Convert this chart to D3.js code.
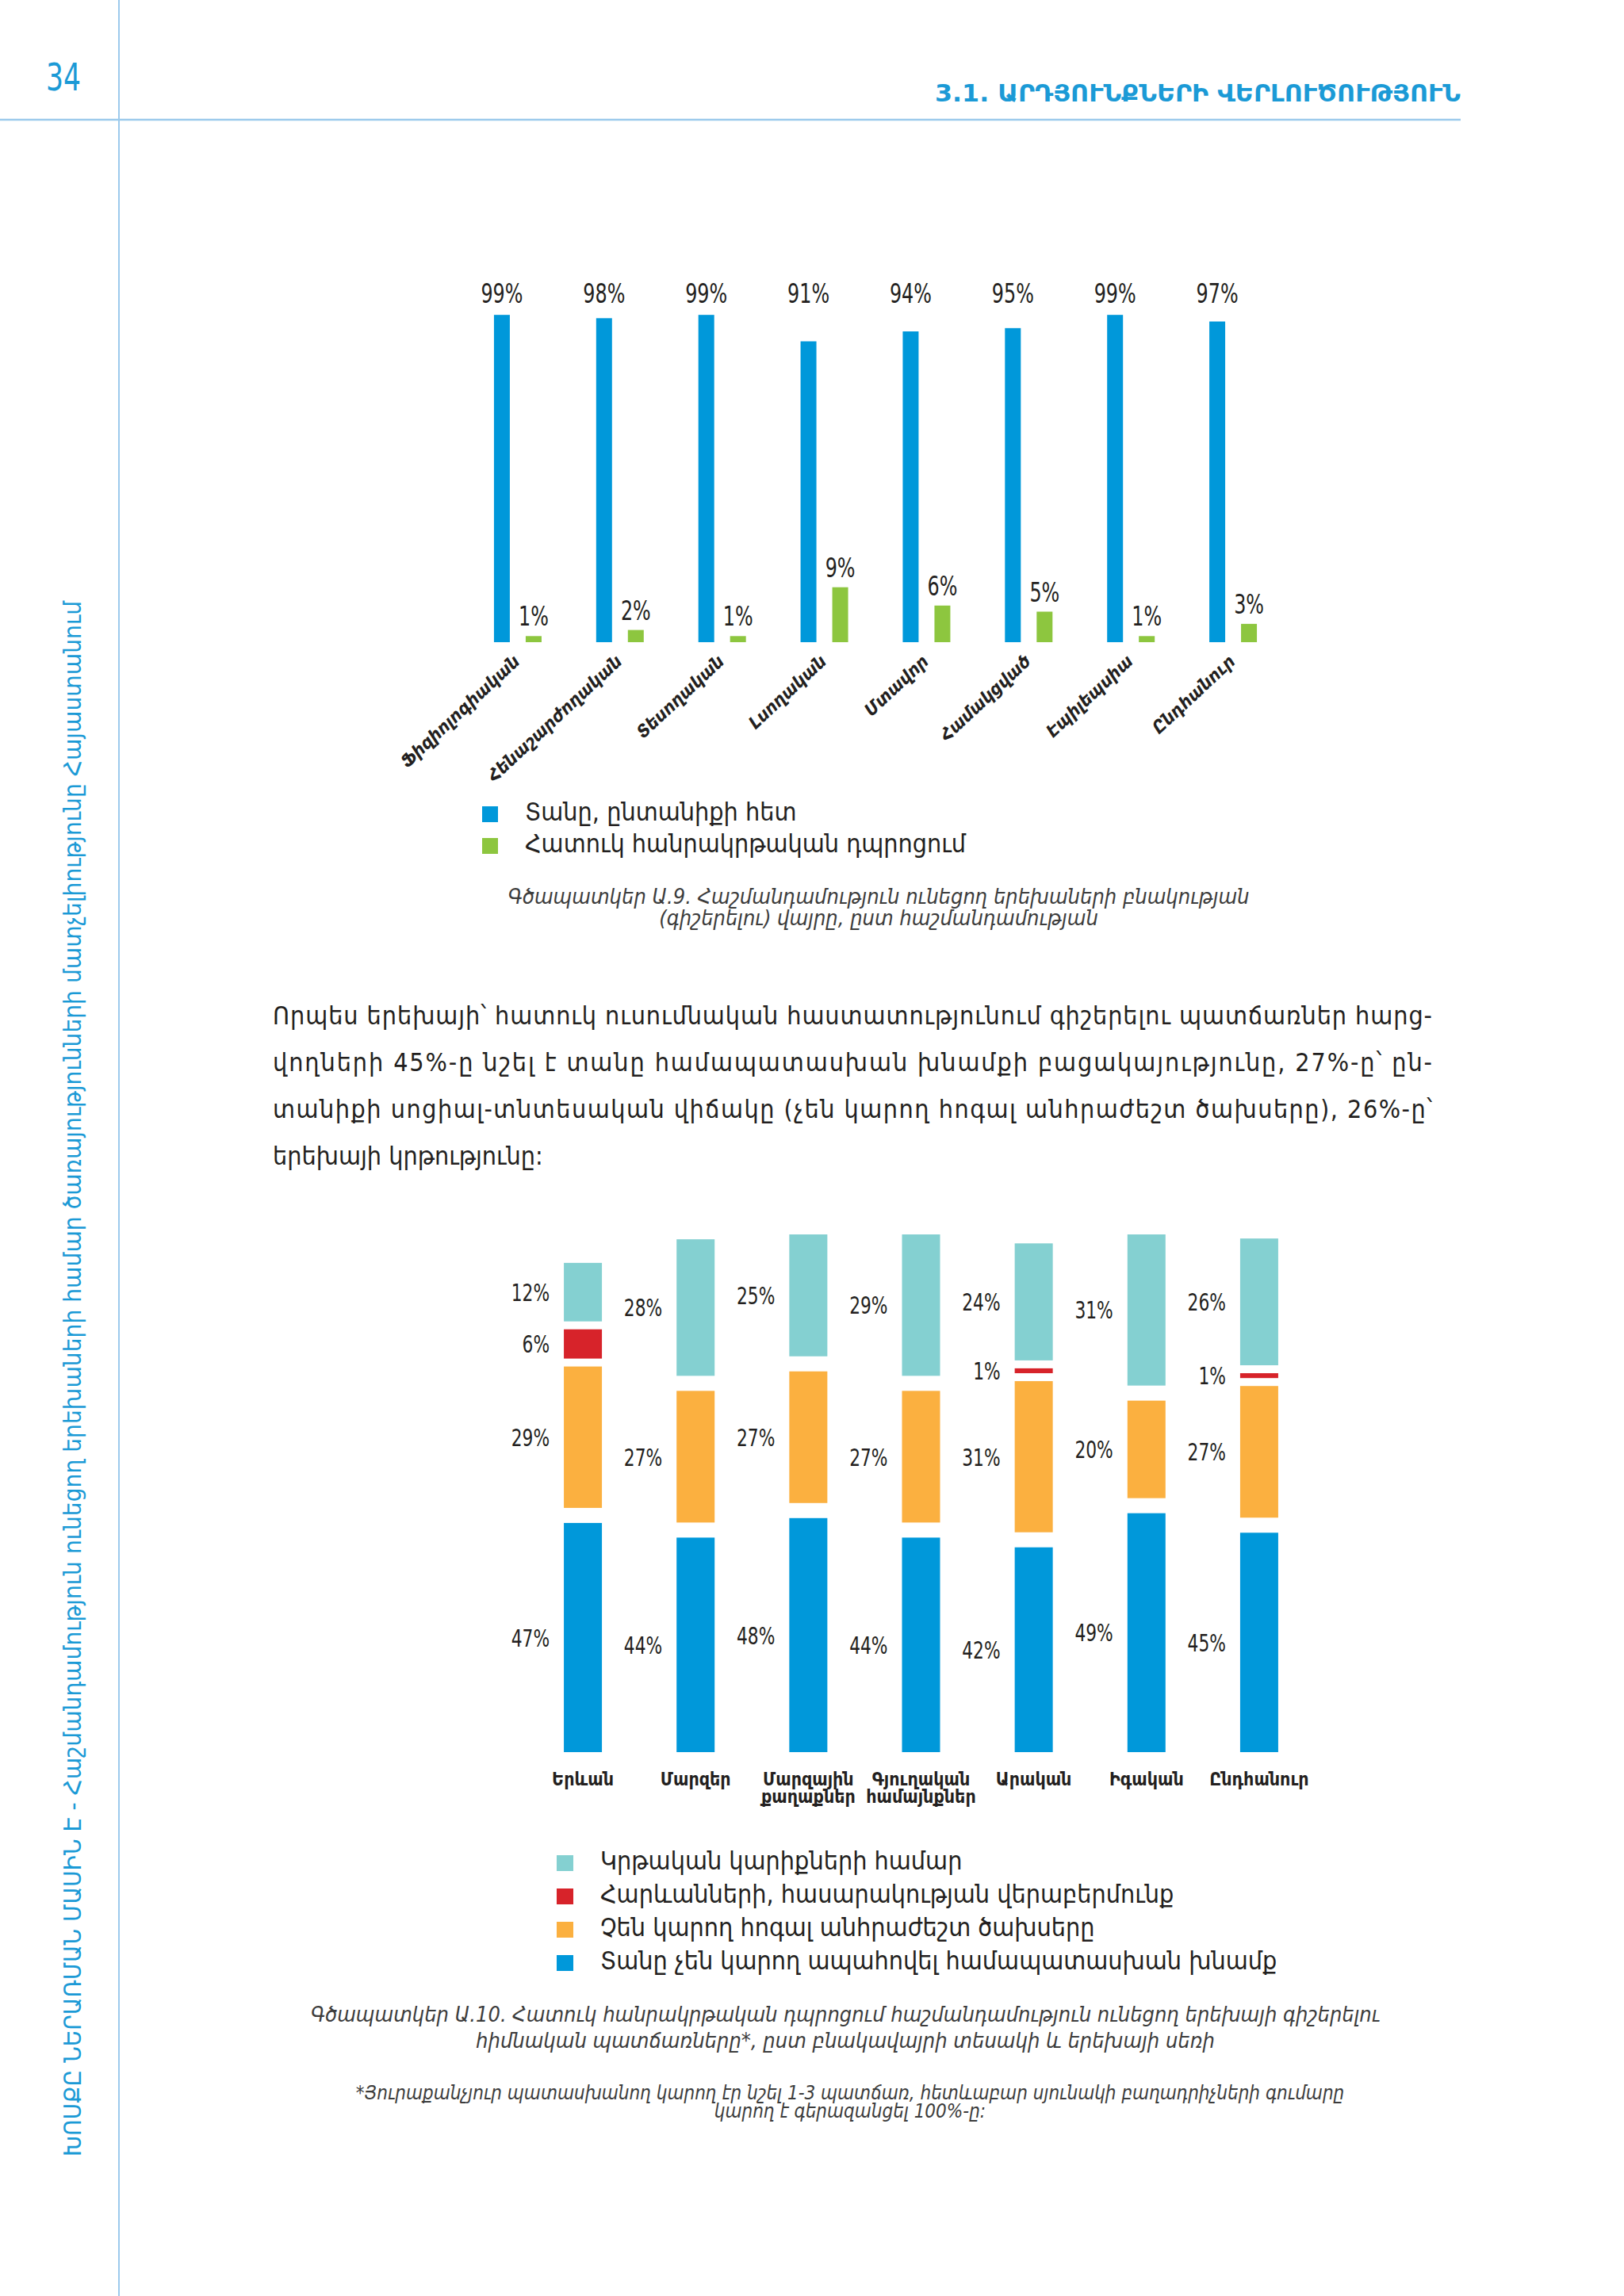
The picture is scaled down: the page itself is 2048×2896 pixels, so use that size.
<!DOCTYPE html>
<html>
<head>
<meta charset="utf-8">
<script src="https://cdn.jsdelivr.net/npm/d3@7"></script>
<style>
  html, body { margin: 0; padding: 0; background: #fff; }
  svg { display: block; }
</style>
</head>
<body>
<div id="page"></div>
<script>
var width = 2048,
  height = 2896;

var blue = "#0098da", green = "#8dc63f", teal = "#84d0d1", red = "#d7232a", orange = "#fbb040";
var pageBlue = "#1b9ad6", ruleBlue = "#9ccaec", ink = "#231f20", captionInk = "#3c3c3c";
var armFont = "'DejaVu Sans Condensed', 'DejaVu Sans', sans-serif";
var numFont = "'Liberation Sans Narrow', 'DejaVu Sans Condensed', sans-serif";

// figure A.9 - where children live, by disability
var disabilities = ["Ֆիզիոլոգիական", "Հենաշարժողական", "Տեսողական", "Լսողական", "Մտավոր", "Համակցված", "Էպիլեպսիա", "Ընդհանուր"];
var atHome = [99, 98, 99, 91, 94, 95, 99, 97];
var specialSchool = [1, 2, 1, 9, 6, 5, 1, 3];
var legend9 = ["Տանը, ընտանիքի հետ", "Հատուկ հանրակրթական դպրոցում"];
var caption9 = ["Գծապատկեր Ա.9. Հաշմանդամություն ունեցող երեխաների բնակության", "(գիշերելու) վայրը, ըստ հաշմանդամության"];

// figure A.10 - reasons, by settlement type and sex
var groups = ["Երևան", "Մարզեր", "Մարզային քաղաքներ", "Գյուղական համայնքներ", "Արական", "Իգական", "Ընդհանուր"];
var noCare = [47, 44, 48, 44, 42, 49, 45];
var noCosts = [29, 27, 27, 27, 31, 20, 27];
var attitude = [6, 0, 0, 0, 1, 0, 1];
var education = [12, 28, 25, 29, 24, 31, 26];
var legend10 = ["Կրթական կարիքների համար", "Հարևանների, հասարակության վերաբերմունք", "Չեն կարող հոգալ անհրաժեշտ ծախսերը", "Տանը չեն կարող ապահովել համապատասխան խնամք"];
var caption10 = ["Գծապատկեր Ա.10. Հատուկ հանրակրթական դպրոցում հաշմանդամություն ունեցող երեխայի գիշերելու", "հիմնական պատճառները*, ըստ բնակավայրի տեսակի և երեխայի սեռի"];
var footnote10 = ["*Յուրաքանչյուր պատասխանող կարող էր նշել 1-3 պատճառ, հետևաբար սյունակի բաղադրիչների գումարը", "կարող է գերազանցել 100%-ը:"];

var paragraph = [
  "Որպես երեխայի՝ հատուկ ուսումնական հաստատությունում գիշերելու պատճառներ հարց-",
  "վողների 45%-ը նշել է տանը համապատասխան խնամքի բացակայությունը, 27%-ը՝ ըն-",
  "տանիքի սոցիալ-տնտեսական վիճակը (չեն կարող հոգալ անհրաժեշտ ծախսերը), 26%-ը՝",
  "երեխայի կրթությունը:"
];
var pageNumber = "34";
var sectionTitle = "3.1. ԱՐԴՅՈՒՆՔՆԵՐԻ ՎԵՐԼՈՒԾՈՒԹՅՈՒՆ";
var sideText = "ԽՈՍՔԸ ՆԵՐԱՌՄԱՆ ՄԱՍԻՆ Է - Հաշմանդամություն ունեցող երեխաների համար ծառայությունների մատչելիությունը Հայաստանում";

// squeeze glyphs horizontally, the print font is much narrower than what we have
function condense(sel, f) {
  sel.each(function() {
    var len = this.getComputedTextLength();
    d3.select(this).attr("textLength", len * f).attr("lengthAdjust", "spacingAndGlyphs");
  });
}

var svg = d3.select("#page").append("svg")
  .attr("width", width)
  .attr("height", height)
  .style("background", "#fff");

// ---- page furniture ----
svg.append("line").attr("x1", 150).attr("x2", 150).attr("y1", 0).attr("y2", height)
  .style("stroke", ruleBlue).style("stroke-width", 2);
svg.append("line").attr("x1", 0).attr("x2", 1842).attr("y1", 151).attr("y2", 151)
  .style("stroke", ruleBlue).style("stroke-width", 2.5);

svg.append("text").text(pageNumber)
  .attr("x", 80).attr("y", 114)
  .attr("text-anchor", "middle")
  .style("font-family", numFont).style("font-size", "48px")
  .style("fill", pageBlue)
  .call(condense, 0.8);

svg.append("text").text(sectionTitle)
  .attr("x", 1842).attr("y", 128)
  .attr("text-anchor", "end")
  .attr("textLength", 663).attr("lengthAdjust", "spacingAndGlyphs")
  .style("font-family", armFont).style("font-size", "31px").style("font-weight", "bold")
  .style("fill", pageBlue);

svg.append("text").text(sideText)
  .attr("transform", "translate(102,2720) rotate(-90)")
  .attr("textLength", 1962).attr("lengthAdjust", "spacingAndGlyphs")
  .style("font-family", armFont).style("font-size", "30px")
  .style("fill", pageBlue);

// ---- figure A.9 ----
var base9 = 810;
var x9 = d3.scaleBand().domain(disabilities).range([588.5, 1619.5]);
var yBlue = d3.scaleLinear().domain([0, 100]).range([base9, base9 - 417]);
var yGreen = d3.scaleLinear().domain([0, 10]).range([base9, base9 - 77]);
var bw9 = 20;

var data9 = disabilities.map(function(d, i) {
  return { cat: d, home: atHome[i], school: specialSchool[i] };
});

var g9 = svg.append("g");

g9.selectAll("rect.home")
  .data(data9).enter().append("rect")
  .attr("class", "home")
  .attr("x", function(d) { return x9(d.cat) + x9.bandwidth() / 2 - 30; })
  .attr("y", function(d) { return yBlue(d.home); })
  .attr("width", bw9)
  .attr("height", function(d) { return base9 - yBlue(d.home); })
  .style("fill", blue);

g9.selectAll("rect.school")
  .data(data9).enter().append("rect")
  .attr("class", "school")
  .attr("x", function(d) { return x9(d.cat) + x9.bandwidth() / 2 + 10; })
  .attr("y", function(d) { return yGreen(d.school); })
  .attr("width", bw9)
  .attr("height", function(d) { return base9 - yGreen(d.school); })
  .style("fill", green);

g9.selectAll("text.homeLabel")
  .data(data9).enter().append("text")
  .attr("class", "homeLabel")
  .attr("x", function(d) { return x9(d.cat) + x9.bandwidth() / 2 - 20; })
  .attr("y", 382)
  .attr("text-anchor", "middle")
  .style("font-family", numFont).style("font-size", "34px").style("fill", ink)
  .text(function(d) { return d.home + "%"; })
  .call(condense, 0.78);

g9.selectAll("text.schoolLabel")
  .data(data9).enter().append("text")
  .attr("class", "schoolLabel")
  .attr("x", function(d) { return x9(d.cat) + x9.bandwidth() / 2 + 20; })
  .attr("y", function(d) { return yGreen(d.school) - 13; })
  .attr("text-anchor", "middle")
  .style("font-family", numFont).style("font-size", "34px").style("fill", ink)
  .text(function(d) { return d.school + "%"; })
  .call(condense, 0.78);

var axis9 = g9.append("g")
  .attr("transform", "translate(4," + 836 + ")")
  .call(d3.axisBottom(x9).tickSize(0).tickPadding(0));
axis9.select(".domain").remove();
axis9.selectAll("text")
  .attr("x", 0).attr("y", 0).attr("dy", 0)
  .attr("text-anchor", "end")
  .attr("transform", "rotate(-43)")
  .style("font-family", armFont).style("font-size", "22px")
  .style("font-weight", "bold").style("font-style", "italic")
  .style("fill", ink);

var leg9 = g9.selectAll("g.leg9")
  .data(legend9).enter().append("g")
  .attr("transform", function(d, i) { return "translate(608," + (1017 + i * 40) + ")"; });
leg9.append("rect").attr("width", 20).attr("height", 20)
  .style("fill", function(d, i) { return i == 0 ? blue : green; });
leg9.append("text").attr("x", 54).attr("y", 18)
  .style("font-family", armFont).style("font-size", "32px").style("fill", ink)
  .text(function(d) { return d; });

svg.selectAll("text.cap9")
  .data(caption9).enter().append("text")
  .attr("x", 1108).attr("y", function(d, i) { return 1140 + i * 27; })
  .attr("text-anchor", "middle")
  .style("font-family", armFont).style("font-size", "27px").style("font-style", "italic")
  .style("fill", captionInk)
  .text(function(d) { return d; });

// ---- paragraph ----
svg.selectAll("text.para")
  .data(paragraph).enter().append("text")
  .attr("x", 344).attr("y", function(d, i) { return 1292 + i * 59; })
  .attr("textLength", function(d, i) { return i < paragraph.length - 1 ? 1462 : null; })
  .attr("lengthAdjust", "spacing")
  .style("font-family", armFont).style("font-size", "32px").style("fill", ink)
  .text(function(d) { return d; });

// ---- figure A.10 ----
var base10 = 2210, bw10 = 48;
var x10 = d3.scaleBand().domain(groups).range([664, 1659]);
var hScale = d3.scaleLinear().domain([0, 100]).range([0, 615]);

var seriesList = [
  { key: "care", values: noCare, color: blue },
  { key: "costs", values: noCosts, color: orange },
  { key: "attitude", values: attitude, color: red },
  { key: "education", values: education, color: teal }
];

var segs = [];
groups.forEach(function(gname, i) {
  var y = base10, prev = null;
  seriesList.forEach(function(s) {
    var v = s.values[i];
    if (!v) return;
    if (prev !== null) y -= (prev == "attitude" || s.key == "attitude") ? 10 : 19;
    var h = hScale(v);
    segs.push({ group: gname, value: v, color: s.color, top: y - h, h: h });
    y -= h;
    prev = s.key;
  });
});

var g10 = svg.append("g");

g10.selectAll("rect")
  .data(segs).enter().append("rect")
  .attr("x", function(d) { return x10(d.group) + x10.bandwidth() / 2 - bw10 / 2; })
  .attr("y", function(d) { return d.top; })
  .attr("width", bw10)
  .attr("height", function(d) { return d.h; })
  .style("fill", function(d) { return d.color; });

g10.selectAll("text.segLabel")
  .data(segs).enter().append("text")
  .attr("class", "segLabel")
  .attr("x", function(d) { return x10(d.group) + x10.bandwidth() / 2 - bw10 / 2 - 18; })
  .attr("y", function(d) { return d.top + d.h / 2; })
  .attr("dy", "0.36em")
  .attr("text-anchor", "end")
  .style("font-family", numFont).style("font-size", "31px").style("fill", ink)
  .text(function(d) { return d.value + "%"; })
  .call(condense, 0.78);

var axis10 = g10.append("g")
  .attr("transform", "translate(0,2252)")
  .call(d3.axisBottom(x10).tickSize(0).tickPadding(0));
axis10.select(".domain").remove();
axis10.selectAll("text")
  .attr("y", 0).attr("dy", 0)
  .style("font-family", armFont).style("font-size", "23px").style("font-weight", "bold")
  .style("fill", ink)
  .each(function(d) {
    var t = d3.select(this), words = d.split(" ");
    t.text(null);
    words.forEach(function(w, j) {
      t.append("tspan").attr("x", 0).attr("dy", j == 0 ? 0 : 22).text(w);
    });
  });

var legColors10 = [teal, red, orange, blue];
var leg10 = g10.selectAll("g.leg10")
  .data(legend10).enter().append("g")
  .attr("transform", function(d, i) { return "translate(702," + (2340 + i * 42) + ")"; });
leg10.append("rect").attr("width", 21).attr("height", 20)
  .style("fill", function(d, i) { return legColors10[i]; });
leg10.append("text").attr("x", 55).attr("y", 18)
  .style("font-family", armFont).style("font-size", "32px").style("fill", ink)
  .text(function(d) { return d; });

svg.selectAll("text.cap10")
  .data(caption10).enter().append("text")
  .attr("x", 1066).attr("y", function(d, i) { return 2550 + i * 33; })
  .attr("text-anchor", "middle")
  .style("font-family", armFont).style("font-size", "27px").style("font-style", "italic")
  .style("fill", captionInk)
  .text(function(d) { return d; });

svg.selectAll("text.foot10")
  .data(footnote10).enter().append("text")
  .attr("x", 1072).attr("y", function(d, i) { return 2648 + i * 23; })
  .attr("text-anchor", "middle")
  .style("font-family", armFont).style("font-size", "24px").style("font-style", "italic")
  .style("fill", captionInk)
  .text(function(d) { return d; });
</script>
</body>
</html>
